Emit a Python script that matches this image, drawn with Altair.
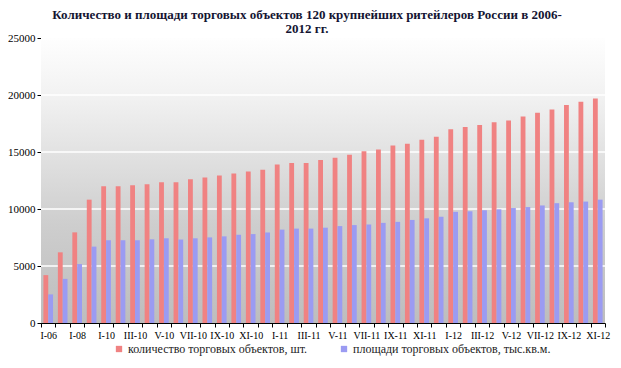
import altair as alt
import pandas as pd

categories = [
    "I-06", "I-07", "I-08", "I-09",
    "I-10", "II-10", "III-10", "IV-10", "V-10", "VI-10", "VII-10", "VIII-10", "IX-10", "X-10", "XI-10", "XII-10",
    "I-11", "II-11", "III-11", "IV-11", "V-11", "VI-11", "VII-11", "VIII-11", "IX-11", "X-11", "XI-11", "XII-11",
    "I-12", "II-12", "III-12", "IV-12", "V-12", "VI-12", "VII-12", "VIII-12", "IX-12", "X-12", "XI-12",
]
shown_labels = [
    "I-06", "I-08", "I-10", "III-10", "V-10", "VII-10", "IX-10", "XI-10",
    "I-11", "III-11", "V-11", "VII-11", "IX-11", "XI-11",
    "I-12", "III-12", "V-12", "VII-12", "IX-12", "XI-12",
]
count_values = [
    4200, 6200, 7950, 10820,
    12000, 12000, 12090, 12175, 12345, 12345, 12600, 12770, 12940, 13110, 13280, 13450,
    13900, 14040, 14040, 14290, 14490, 14750, 15060, 15230, 15565, 15730, 16070, 16330,
    17000, 17200, 17370, 17600, 17770, 18110, 18450, 18730, 19120, 19410, 19690,
]
area_values = [
    2510, 3870, 5170, 6700,
    7260, 7260, 7260, 7340, 7430, 7320, 7430, 7510, 7600, 7740, 7800, 7940,
    8190, 8280, 8280, 8360, 8500, 8590, 8640, 8785, 8870, 9040, 9180, 9320,
    9750, 9800, 9890, 9970, 10085, 10170, 10310, 10510, 10590, 10650, 10820,
]
series_names = ["количество торговых объектов, шт.", "площади торговых объектов, тыс.кв.м."]
series_colors = ["#f08282", "#9b9bf2"]
y_ticks = [0, 5000, 10000, 15000, 20000, 25000]
grid_values = [5000, 10000, 15000, 20000]
title_lines = ["Количество и площади торговых объектов 120 крупнейших ритейлеров России в 2006-", "2012 гг."]

W, H = 564, 285
SERIF = "Liberation Serif"

rows = []
for c, v in zip(categories, count_values):
    rows.append({"category": c, "series": series_names[0], "value": v})
for c, v in zip(categories, area_values):
    rows.append({"category": c, "series": series_names[1], "value": v})
df = pd.DataFrame(rows)
grid_df = pd.DataFrame({"value": grid_values})
bg_df = pd.DataFrame({"d": [0]})

y_scale = alt.Scale(domain=[0, 25000], nice=False)
y_axis = alt.Axis(
    title=None, values=y_ticks, format="d", grid=False, tickSize=4, tickColor="black",
    domainColor="black", labelFont=SERIF, labelFontSize=11, labelColor="black", labelPadding=2,
)

label_list = ",".join("'" + s + "'" for s in shown_labels)

background = alt.Chart(bg_df).mark_rect(
    color=alt.LinearGradient(
        gradient="linear",
        stops=[
            alt.GradientStop(color="#fefefe", offset=0),
            alt.GradientStop(color="#f2f2f2", offset=0.2),
            alt.GradientStop(color="#dedede", offset=0.45),
            alt.GradientStop(color="#cecece", offset=0.65),
            alt.GradientStop(color="#bdbdbd", offset=1),
        ],
        x1=0, x2=0, y1=0, y2=1,
    )
).encode(x=alt.value(0), x2=alt.value(W), y=alt.value(0), y2=alt.value(H))

grid = alt.Chart(grid_df).mark_rule(color="white", strokeWidth=1.5).encode(
    y=alt.Y("value:Q", scale=y_scale, axis=y_axis)
)

bars = alt.Chart(df).mark_bar().encode(
    x=alt.X(
        "category:N",
        sort=categories,
        scale=alt.Scale(domain=categories, paddingInner=0, paddingOuter=0),
        axis=alt.Axis(
            title=None, labelAngle=0, grid=False, tickBand="extent", tickSize=4,
            tickColor="black", domainColor="black", labelFont=SERIF, labelFontSize=10,
            labelColor="black", labelPadding=3,
            labelExpr="indexof([" + label_list + "], datum.value) >= 0 ? datum.label : ''",
        ),
    ),
    xOffset=alt.XOffset(
        "series:N", sort=series_names,
        scale=alt.Scale(domain=series_names, paddingInner=0, paddingOuter=0.5),
    ),
    y=alt.Y("value:Q", scale=y_scale, axis=y_axis),
    color=alt.Color(
        "series:N",
        scale=alt.Scale(domain=series_names, range=series_colors),
        legend=alt.Legend(
            orient="none", legendX=72, legendY=305, direction="horizontal", title=None,
            symbolType="square", symbolSize=40, symbolStrokeWidth=0, labelFont=SERIF,
            labelFontSize=12, labelColor="#222222", labelLimit=400, columnPadding=30,
            labelOffset=3,
        ),
    ),
)

chart = (
    alt.layer(background, grid, bars)
    .properties(
        width=W,
        height=H,
        autosize=alt.AutoSizeParams(type="none"),
        padding={"left": 33, "top": 30, "right": 8, "bottom": 36},
        title=alt.TitleParams(
            text=title_lines, font=SERIF, fontSize=13, fontWeight="bold", color="#141432",
            anchor="middle", lineHeight=14, offset=-4, dx=-16,
        ),
    )
    .configure(font=SERIF)
    .configure_axis(labelFont=SERIF)
    .configure_legend(labelFont=SERIF)
    .configure_view(strokeWidth=0)
)

chart.save("out.html", embed_options={"renderer": "svg", "actions": False})
